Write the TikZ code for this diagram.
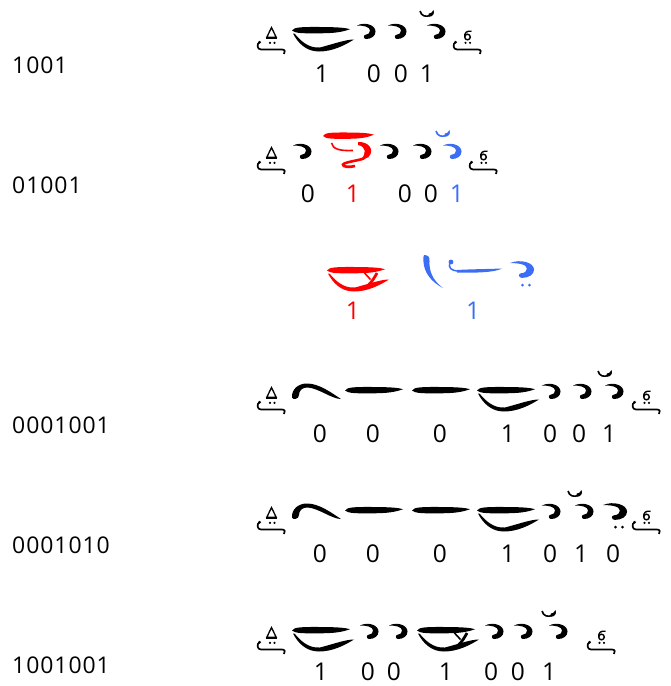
\documentclass[tikz,border=0pt]{standalone}
\usepackage{fontspec}
\setmainfont{Open Sans}
\newfontfamily\lblfont{Open Sans}[LetterSpace=4]
\definecolor{gblue}{RGB}{59,110,245}
\definecolor{gred}{RGB}{255,0,0}
\tikzset{
  lbl/.style={anchor=west, inner sep=0pt, font=\lblfont\fontsize{23}{27}\selectfont},
  dig/.style={inner sep=0pt, font=\fontsize{24.5}{28}\selectfont},
  gbar/.pic={\fill (0,0.5) .. controls (2,-3) and (10,-3.1) .. (28,-3) .. controls (42,-2.9) and (52,-2.6) .. (58,-0.8) .. controls (50,2.2) and (42,3.2) .. (28,3.3) .. controls (12,3.4) and (3,3.5) .. (0,0.5) -- cycle;},
  gbowl/.pic={\pic {gbar};
    \fill (1,3.5) .. controls (6,13) and (14,21.5) .. (27,21.5) .. controls (41,21.5) and (53,15) .. (62,9.5) .. controls (54,9.5) and (43,13.5) .. (28,17.5) .. controls (16,18.5) and (8,10) .. (2.5,3.5) -- cycle;},
  gbowlt/.pic={\pic {gbowl};
    \draw[line width=1.6] (37.5,3) -- (43.5,9.5);
    \draw[line width=2.8] (50,3) .. controls (47.5,7.5) and (45.5,11) .. (41.5,15);},
  ghook/.pic={\fill (0,-4.5) .. controls (8,-8.5) and (18.5,-5) .. (18.5,1.5) .. controls (18.5,6) and (14.5,9) .. (9,9) .. controls (6.5,9) and (6,5) .. (8.5,4.8) .. controls (11.5,4.5) and (13,3) .. (13,0.5) .. controls (13,-3.5) and (6,-4.5) .. (0,-4.5) -- cycle;},
  gtick/.pic={\draw[line width=1.6] (-7,-19) .. controls (-5.5,-13.5) and (-1,-13) .. (3,-14.5);
    \fill (1.5,-13.2) .. controls (6,-13.2) and (8,-16.5) .. (6.5,-20) .. controls (5.5,-17.5) and (3.5,-16.5) .. (1.5,-16.3) -- cycle;},
  gtickhook/.pic={\pic {ghook}; \pic {gtick};},
  garch/.pic={\fill (0,7.5) .. controls (-0.5,-1.5) and (7,-6.5) .. (15,-6.5) .. controls (27,-6.5) and (39,2.5) .. (49,9) .. controls (40,9) and (27,-1.5) .. (16,-2.5) .. controls (10,-3) and (7,1) .. (7,5) .. controls (7,9.5) and (0.5,10) .. (0,7.5) -- cycle;},
  gdhook/.pic={\pic[xscale=1.3,yscale=1.1] {ghook};
    \fill (12.5,17) circle (1.5); \fill (19.5,17) circle (1.5);},
  gcurl/.pic={\draw[line width=1.7] (2.5,12) .. controls (-0.5,14) and (0,19.5) .. (4,19.5) -- (25,19.5) .. controls (28,19.5) and (28.5,22) .. (27,24);
    \fill (2.6,12.3) circle (1.5);},
  gstart/.pic={\draw[line width=1.3] (14.5,-2.5) -- (9.8,7.3) -- (19.2,7.3) -- cycle;
    \draw[line width=1.9] (9,7.8) -- (20,7.8);
    \fill (13,12.8) circle (1.2); \fill (17.5,12.8) circle (1.2);
    \pic {gcurl};},
  gend/.pic={\draw[line width=1.4] (14.5,7) circle (2.8);
    \draw[line width=1.4] (11.7,7) .. controls (11.3,2.5) and (14,0.5) .. (18.5,1.3);
    \fill (12.5,12.8) circle (1.2); \fill (17,12.8) circle (1.2);
    \pic {gcurl};},
  gredsign/.pic={\pic[xscale=0.88] at (0,-14.5) {gbar};
    \draw[line width=1.6] (8.5,-7) .. controls (10,-1) and (16,1) .. (30,0.5);
    \fill (35,-8) .. controls (46,-8.5) and (52,0) .. (45.5,7) .. controls (43.5,9) and (40,9.5) .. (38,9) .. controls (43.5,4) and (43.5,-3.5) .. (35,-5) -- cycle;
    \draw[line width=2.6] (41,8.5) .. controls (33,11) and (22,12) .. (20,14.5) .. controls (19,17) and (27,17.5) .. (32,16);},
  gparen/.pic={\fill (1,-15) .. controls (5,-15) and (7,-13) .. (6.5,-9) .. controls (6,0) and (9,10) .. (20,18) .. controls (8,12) and (1,2) .. (0.5,-8) .. controls (0.3,-11) and (0,-14) .. (1,-15) -- cycle;},
  gline/.pic={\fill (6,-8) circle (2.4);
    \draw[line width=1.5] (5,-8) .. controls (3,-2) and (6,0.5) .. (13,1);
    \fill (12,0) .. controls (25,-0.8) and (45,-1) .. (57,-1.5) .. controls (50,2.5) and (30,3) .. (12,2.5) -- cycle;}
}
\begin{document}
\begin{tikzpicture}[x=1pt,y=-1pt]
\useasboundingbox (0,0) rectangle (670,686);
% left labels
\node[lbl] (l1) at (12,65) {1001};
\node[lbl] (l2) at (12,185) {01001};
\node[lbl] (l4) at (12,425) {0001001};
\node[lbl] (l5) at (12,545) {0001010};
\node[lbl] (l6) at (12,665) {1001001};
% row 1
\pic at (257,30) {gstart};
\pic at (292,30) {gbowl};
\pic at (357,30) {ghook};
\pic at (388,30) {ghook};
\pic at (427,30) {gtickhook};
\pic at (453,30) {gend};
\foreach \x/\t [count=\i] in {322/1,374/0,401/0,427/1}
  \node[dig] (a\i) at (\x,74) {\t};
% row 2
\pic at (257,150) {gstart};
\pic at (293,150) {ghook};
\begin{scope}[color=gred]\pic at (323,150) {gredsign};\end{scope}
\pic at (380,150) {ghook};
\pic at (413,150) {ghook};
\begin{scope}[color=gblue]\pic at (443,150) {gtickhook};\end{scope}
\pic at (469,150) {gend};
\node[dig] (b1) at (308,194) {0};
\node[dig, text=gred] (b2) at (353,194) {1};
\node[dig] (b3) at (405,194) {0};
\node[dig] (b4) at (431,194) {0};
\node[dig, text=gblue] (b5) at (457,194) {1};
% row 3
\begin{scope}[color=gred]\pic at (327,270) {gbowlt};\end{scope}
\begin{scope}[color=gblue]
\pic at (423,270) {gparen};
\pic at (445,270) {gline};
\pic at (510,268) {gdhook};
\end{scope}
\node[dig, text=gred] (c1) at (353,311) {1};
\node[dig, text=gblue] (c2) at (473,311) {1};
% row 4
\pic at (257,390) {gstart};
\pic at (292,390) {garch};
\pic at (345,390) {gbar};
\pic at (412,390) {gbar};
\pic at (477,390) {gbowl};
\pic at (542,390) {ghook};
\pic at (573,390) {ghook};
\pic at (605,390) {gtickhook};
\pic at (632,390) {gend};
\foreach \x/\t [count=\i] in {320/0,373/0,440/0,508/1,550/0,579/0,609/1}
  \node[dig] (e\i) at (\x,434) {\t};
% row 5
\pic at (257,510) {gstart};
\pic at (292,510) {garch};
\pic at (345,510) {gbar};
\pic at (412,510) {gbar};
\pic at (477,510) {gbowl};
\pic at (542,510) {ghook};
\pic at (575,510) {gtickhook};
\pic at (603,510) {gdhook};
\pic at (632,510) {gend};
\foreach \x/\t [count=\i] in {320/0,373/0,440/0,508/1,550/0,581/1,613/0}
  \node[dig] (f\i) at (\x,554) {\t};
% row 6
\pic at (257,630) {gstart};
\pic at (292,630) {gbowl};
\pic at (360,630) {ghook};
\pic at (389,630) {ghook};
\pic at (417,630) {gbowlt};
\pic at (485,630) {ghook};
\pic at (514,630) {ghook};
\pic at (549,630) {gtickhook};
\pic at (587,630) {gend};
\foreach \x/\t [count=\i] in {321/1,368/0,394/0,446/1,491/0,518/0,549/1}
  \node[dig] (g\i) at (\x,672) {\t};
\end{tikzpicture}
\end{document}
